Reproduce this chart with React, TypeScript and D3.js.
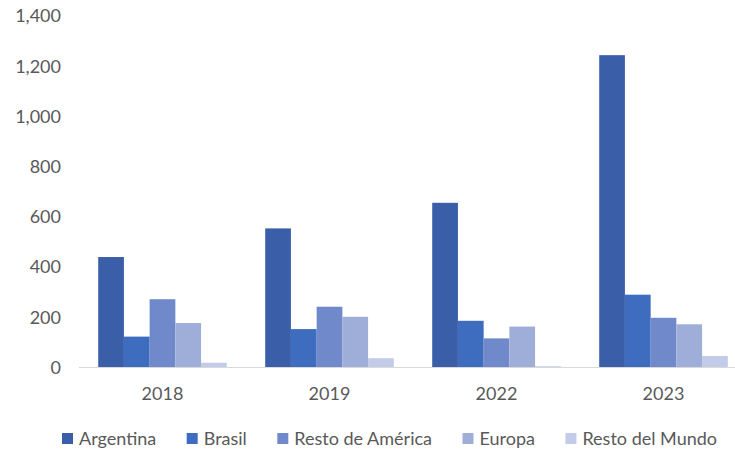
import * as d3 from 'd3';
import React, { useRef, useEffect } from 'react';

const years = ['2018', '2019', '2022', '2023'];
const regions = ['Argentina', 'Brasil', 'Resto de América', 'Europa', 'Resto del Mundo'];
const argentina = [440, 554, 656, 1244];
const brasil = [123, 153, 186, 290];
const restoAmerica = [272, 242, 116, 198];
const europa = [177, 202, 163, 172];
const restoMundo = [19, 37, 5, 46];
const yTicks = [0, 200, 400, 600, 800, 1000, 1200, 1400];

const colors = ['#3A5FA8', '#3E6CBE', '#6F89CB', '#9FAED8', '#C2CCE8'];

const width = 735;
const height = 453;
const font = 'Lato, "Open Sans", sans-serif';
const textColor = '#595959';

export default function App() {
  const svgRef = useRef<SVGSVGElement | null>(null);
  const series = [argentina, brasil, restoAmerica, europa, restoMundo];

  const xScale = d3.scaleBand<string>().domain(years).range([79, 747]).paddingInner(0.23).paddingOuter(0.115);
  const subScale = d3.scaleBand<string>().domain(regions).range([0, xScale.bandwidth()]);
  const yScale = d3.scaleLinear().domain([0, 1400]).range([367.5, 16]);

  useEffect(() => {
    const svg = d3.select(svgRef.current);
    const legend = svg.select<SVGGElement>('g.legend');
    legend.selectAll('*').remove();

    // measure each label, then spread the items between x=62 and x=717
    const items = regions.map((name, i) => {
      const item = legend.append('g');
      item.append('rect').attr('x', 0).attr('y', -6).attr('width', 11).attr('height', 11).attr('fill', colors[i]);
      const t = item
        .append('text')
        .attr('x', 17)
        .attr('y', 0)
        .attr('dy', '0.35em')
        .attr('font-family', font)
        .attr('font-size', 18)
        .attr('fill', textColor)
        .text(name);
      return { item, w: 17 + (t.node() as SVGTextElement).getComputedTextLength() };
    });
    const used = d3.sum(items, d => d.w);
    const gap = (717 - 62 - used) / (items.length - 1);
    let x = 62;
    items.forEach(d => {
      d.item.attr('transform', `translate(${x},0)`);
      x += d.w + gap;
    });
    legend.attr('transform', 'translate(0,439)');
  }, []);

  return (
    <div>
      <svg
        ref={svgRef}
        width={width}
        height={height}
        style={{ position: 'absolute', left: 0, top: 0, display: 'block' }}
      >
        <rect width={width} height={height} fill="#fff" />
        <g>
          {yTicks.map(t => (
            <text
              key={t}
              x={61}
              y={yScale(t)}
              dy="0.35em"
              textAnchor="end"
              fontFamily={font}
              fontSize={18}
              fill={textColor}
            >
              {d3.format(',')(t)}
            </text>
          ))}
        </g>
        <g>
          {years.map((year, yi) => (
            <g key={year} transform={`translate(${xScale(year)},0)`}>
              {regions.map((r, ri) => (
                <rect
                  key={r}
                  x={subScale(r)}
                  y={yScale(series[ri][yi])}
                  width={subScale.bandwidth()}
                  height={yScale(0) - yScale(series[ri][yi])}
                  fill={colors[ri]}
                />
              ))}
            </g>
          ))}
        </g>
        <line x1={79} x2={747} y1={yScale(0)} y2={yScale(0)} stroke="#D9D9D9" strokeWidth={1.2} />
        <g>
          {years.map(year => (
            <text
              key={year}
              x={(xScale(year) ?? 0) + xScale.bandwidth() / 2}
              y={394}
              dy="0.35em"
              textAnchor="middle"
              fontFamily={font}
              fontSize={18}
              fill={textColor}
            >
              {year}
            </text>
          ))}
        </g>
        <g className="legend" />
      </svg>
    </div>
  );
}
